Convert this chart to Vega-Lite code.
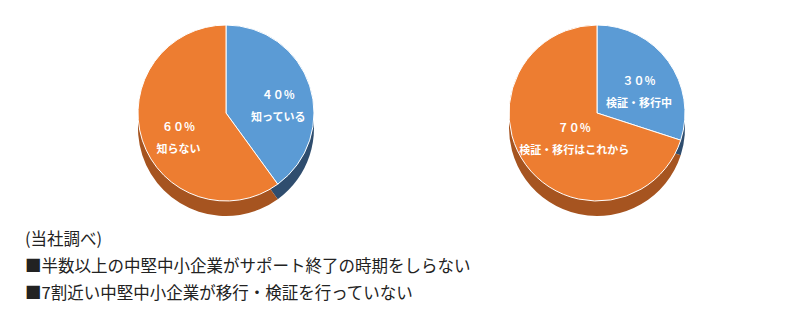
{
  "$schema": "https://vega.github.io/schema/vega-lite/v6.json",
  "padding": {"left": 25, "top": 10, "right": 0, "bottom": 0},
  "background": "white",
  "spacing": 0,
  "title": {
    "text": ["(当社調べ)", "■半数以上の中堅中小企業がサポート終了の時期をしらない", "■7割近い中堅中小企業が移行・検証を行っていない"],
    "orient": "bottom",
    "anchor": "start",
    "offset": 16,
    "fontSize": 16.5,
    "fontWeight": "normal",
    "lineHeight": 27,
    "color": "#222222",
    "font": "Noto Sans CJK JP"
  },
  "datasets": {
    "pie1": [
      {"cat": "知っている", "pct": 40, "ord": 1, "label": "４０％\n知っている"},
      {"cat": "知らない", "pct": 60, "ord": 2, "label": "６０％\n知らない"}
    ],
    "pie2": [
      {"cat": "検証・移行中", "pct": 30, "ord": 1, "label": "３０％\n検証・移行中"},
      {"cat": "検証・移行はこれから", "pct": 70, "ord": 2, "label": "７０％\n検証・移行はこれから"}
    ]
  },
  "hconcat": [
    {
      "width": 402,
      "height": 206,
      "data": {"name": "pie1"},
      "encoding": {
        "theta": {"field": "pct", "type": "quantitative", "stack": true},
        "order": {"field": "ord", "type": "quantitative"}
      },
      "layer": [
        {
          "mark": {"type": "arc", "outerRadius": 88, "yOffset": 15},
          "encoding": {
            "color": {"field": "ord", "type": "nominal", "legend": null,
              "scale": {"domain": [1, 2], "range": ["#2F4D6E", "#A65420"]}}
          }
        },
        {
          "mark": {"type": "arc", "outerRadius": 88, "stroke": "white", "strokeWidth": 1},
          "encoding": {
            "color": {"field": "ord", "type": "nominal", "legend": null,
              "scale": {"domain": [1, 2], "range": ["#5B9BD5", "#ED7D31"]}}
          }
        },
        {
          "mark": {"type": "text", "radius": 55, "color": "white", "fontSize": 11, "fontWeight": "bold", "lineBreak": "\n", "lineHeight": 22, "font": "Noto Sans CJK JP"},
          "encoding": {
            "detail": {"field": "ord", "type": "nominal"},
            "text": {"condition": {"test": "datum.ord == 1", "field": "label"}, "value": ""}
          }
        },
        {
          "mark": {"type": "text", "radius": 50, "color": "white", "fontSize": 11, "fontWeight": "bold", "lineBreak": "\n", "lineHeight": 22, "font": "Noto Sans CJK JP"},
          "encoding": {
            "detail": {"field": "ord", "type": "nominal"},
            "text": {"condition": {"test": "datum.ord == 2", "field": "label"}, "value": ""}
          }
        }
      ],
      "resolve": {"scale": {"color": "independent"}}
    },
    {
      "width": 340,
      "height": 206,
      "data": {"name": "pie2"},
      "encoding": {
        "theta": {"field": "pct", "type": "quantitative", "stack": true},
        "order": {"field": "ord", "type": "quantitative"}
      },
      "layer": [
        {
          "mark": {"type": "arc", "outerRadius": 88, "yOffset": 15},
          "encoding": {
            "color": {"field": "ord", "type": "nominal", "legend": null,
              "scale": {"domain": [1, 2], "range": ["#2F4D6E", "#A65420"]}}
          }
        },
        {
          "mark": {"type": "arc", "outerRadius": 88, "stroke": "white", "strokeWidth": 1},
          "encoding": {
            "color": {"field": "ord", "type": "nominal", "legend": null,
              "scale": {"domain": [1, 2], "range": ["#5B9BD5", "#ED7D31"]}}
          }
        },
        {
          "mark": {"type": "text", "radius": 52, "color": "white", "fontSize": 11, "fontWeight": "bold", "lineBreak": "\n", "lineHeight": 22, "font": "Noto Sans CJK JP"},
          "encoding": {
            "detail": {"field": "ord", "type": "nominal"},
            "text": {"condition": {"test": "datum.ord == 1", "field": "label"}, "value": ""}
          }
        },
        {
          "mark": {"type": "text", "radius": 28, "color": "white", "fontSize": 11, "fontWeight": "bold", "lineBreak": "\n", "lineHeight": 22, "font": "Noto Sans CJK JP"},
          "encoding": {
            "detail": {"field": "ord", "type": "nominal"},
            "text": {"condition": {"test": "datum.ord == 2", "field": "label"}, "value": ""}
          }
        }
      ],
      "resolve": {"scale": {"color": "independent"}}
    }
  ],
  "config": {"view": {"stroke": null}}
}
